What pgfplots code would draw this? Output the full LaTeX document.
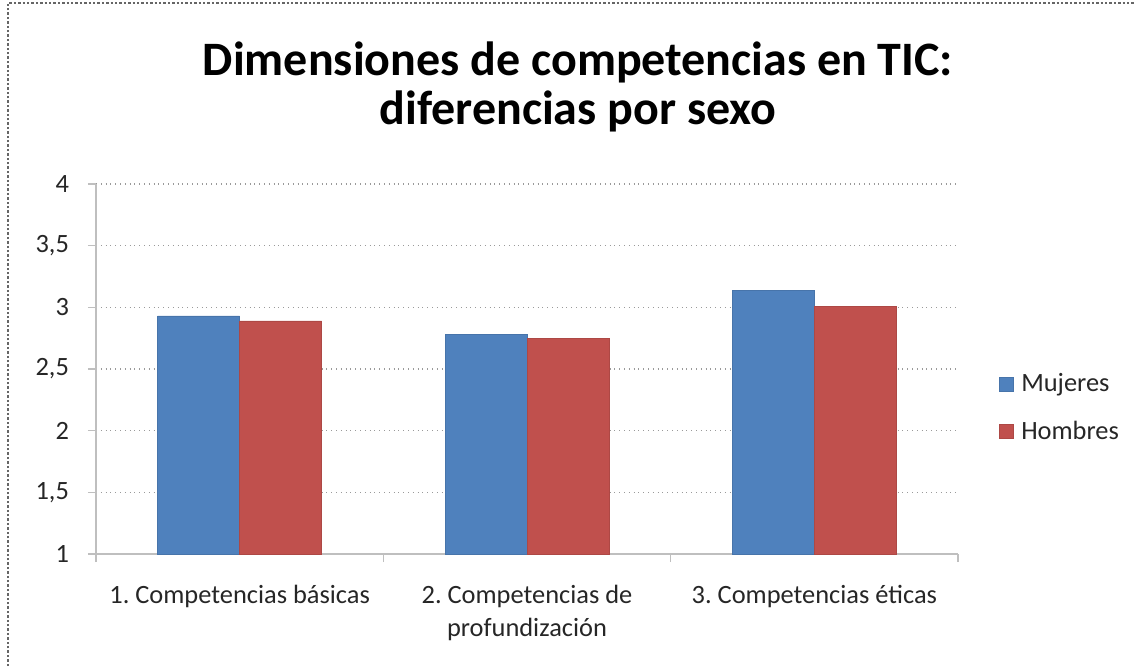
\documentclass[border=0pt]{standalone}
\usepackage{pgfplots}
\pgfplotsset{compat=1.18}
\usepackage{fontspec}
\setmainfont{Carlito}
\frenchspacing
\definecolor{mblue}{HTML}{4F81BD}
\definecolor{hred}{HTML}{C0504D}
\definecolor{axgray}{HTML}{BFBFBF}
\definecolor{gridgray}{HTML}{9A9A9A}
\begin{document}
\begin{tikzpicture}
\useasboundingbox (0pt,0pt) rectangle (567pt,333pt);
\draw[gray!80!black, densely dotted, line width=1.2pt] (4pt,0pt) -- (4pt,331.5pt) -- (567pt,331.5pt);
\node[font=\bfseries\fontsize{24}{24.5}\selectfont, align=center] at (289pt,289.5pt) {Dimensiones de competencias en TIC:\\diferencias por sexo};
\begin{axis}[
  at={(48pt,56pt)}, anchor=south west,
  scale only axis, width=431pt, height=185pt,
  ybar=0pt, bar width=41pt,
  xmin=-0.5, xmax=2.5, ymin=1, ymax=4,
  ytick={1,1.5,2,2.5,3,3.5,4},
  xtick={0,1,2},
  xticklabels={{1. Competencias básicas},{2. Competencias de\\profundización},{3. Competencias éticas}},
  xticklabel style={align=center, font=\fontsize{13.2}{16.5}\selectfont, text=black!85, yshift=-8pt},
  yticklabel style={font=\fontsize{13.2}{14}\selectfont, text=black!85, xshift=-6pt},
  /pgf/number format/use comma,
  /pgf/number format/assume math mode=true,
  major x tick style={draw=none},
  minor xtick={-0.5,0.5,1.5,2.5},
  minor tick length=4pt,
  major tick length=4pt,
  tick align=outside,
  tick style={axgray, line width=0.8pt},
  axis x line*=bottom, axis y line*=left,
  axis line style={axgray, line width=1.2pt},
  ymajorgrids, grid style={gridgray, dotted, line width=0.6pt},
  legend style={at={(1.04,0.395)}, anchor=west, draw=none, fill=none,
    font=\fontsize{13.2}{14}\selectfont, row sep=9pt, column sep=2pt, text=black!85},
  legend image code/.code={\fill[#1] (0pt,-3.5pt) rectangle (7pt,3.5pt);},
  legend cell align=left,
]
\addplot[fill=mblue, draw=mblue!90!black, line width=0.2pt] coordinates {(0,2.93) (1,2.78) (2,3.14)};
\addplot[fill=hred, draw=hred!90!black, line width=0.2pt] coordinates {(0,2.89) (1,2.75) (2,3.01)};
\legend{Mujeres, Hombres}
\end{axis}
\end{tikzpicture}
\end{document}
